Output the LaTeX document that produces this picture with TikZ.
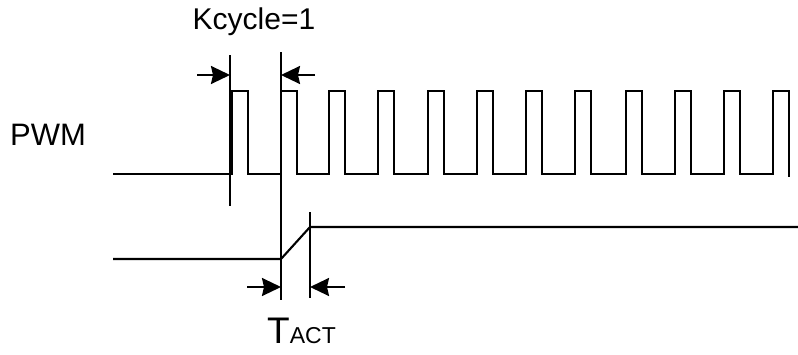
\documentclass[tikz,border=0pt]{standalone}
\usepackage{fontspec}
\setmainfont{Liberation Sans}
\usetikzlibrary{arrows.meta}
\begin{document}
\begin{tikzpicture}[x=1pt,y=-1pt,
  wave/.style={line width=2.1pt,line join=miter},
  marker/.style={line width=2.1pt},
  dimarrow/.style={line width=2.1pt,-{Stealth[length=19pt,width=18pt,inset=2pt]}},
  lbl/.style={inner sep=0pt,text=black}]
\useasboundingbox (0,0) rectangle (798,354);
% labels
\node[lbl,font=\fontsize{30}{31}\selectfont] (kc) at (254,22) {Kcycle=1};
\node[lbl,font=\fontsize{31}{32}\selectfont] (pwm) at (48,135) {PWM};
\node[lbl,font=\fontsize{37}{38}\selectfont,anchor=base west] (tact) at (267,343) {T\fontsize{23}{24}\selectfont ACT};
% PWM waveform
\draw[wave] (113,174) -- (232,174)
  foreach \r in {232,281,329,378,428,477,526,575,626,675,724} {
    -- (\r,174) -- (\r,91) -- (\r+16,91) -- (\r+16,174)
  } -- (773,174) -- (773,91) -- (789,91) -- (789,177);
% lower signal
\draw[wave] (113,259) -- (281,259) -- (310,227) -- (798,227);
% marker lines
\coordinate (m1t) at (230,55);
\coordinate (m1b) at (230,206);
\coordinate (m2t) at (281,52);
\coordinate (m2b) at (281,300);
\coordinate (m3t) at (310,212);
\coordinate (m3b) at (310,298);
\draw[marker] (m1t) -- (m1b);
\draw[marker] (m2t) -- (m2b);
\draw[marker] (m3t) -- (m3b);
% dimension arrows
\coordinate (a1s) at (197,75);
\coordinate (a1e) at (230,75);
\coordinate (a2s) at (315,75);
\coordinate (a2e) at (281,75);
\coordinate (a3s) at (247,287);
\coordinate (a3e) at (281,287);
\coordinate (a4s) at (345,287);
\coordinate (a4e) at (310,287);
\draw[dimarrow] (a1s) -- (a1e);
\draw[dimarrow] (a2s) -- (a2e);
\draw[dimarrow] (a3s) -- (a3e);
\draw[dimarrow] (a4s) -- (a4e);
\end{tikzpicture}
\end{document}
